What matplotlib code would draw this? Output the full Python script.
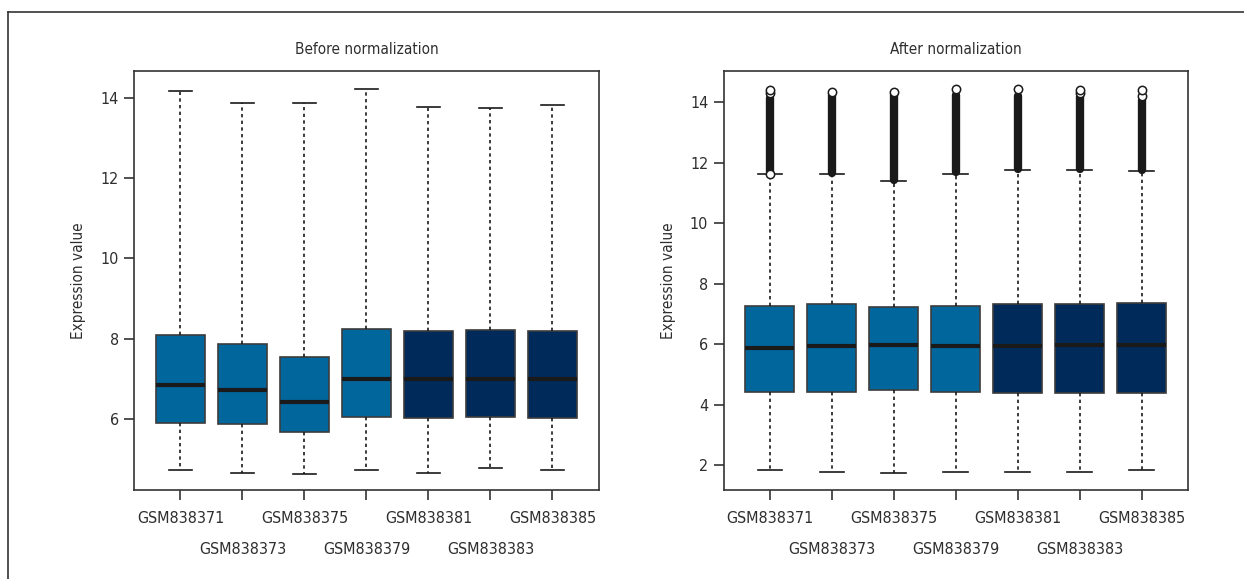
import matplotlib
matplotlib.use("Agg")
import matplotlib.pyplot as plt
from matplotlib.lines import Line2D

plt.rcParams['font.family'] = ['Liberation Sans Narrow', 'DejaVu Sans Condensed',
                               'DejaVu Sans']
plt.rcParams['font.stretch'] = 'condensed'

samples = ["GSM838371", "GSM838373", "GSM838375", "GSM838379",
           "GSM838381", "GSM838383", "GSM838385"]
box_colors = ["#00669c", "#00669c", "#00669c", "#00669c",
              "#002a5a", "#002a5a", "#002a5a"]

# before normalization: whisker low, Q1, median, Q3, whisker high
before_lo = [4.71, 4.64, 4.61, 4.71, 4.64, 4.76, 4.71]
before_q1 = [5.89, 5.88, 5.67, 6.05, 6.02, 6.04, 6.02]
before_med = [6.85, 6.72, 6.42, 7.00, 6.98, 6.98, 7.00]
before_q3 = [8.10, 7.86, 7.55, 8.23, 8.19, 8.21, 8.18]
before_hi = [14.17, 13.87, 13.88, 14.22, 13.78, 13.75, 13.83]

# after normalization
after_lo = [1.85, 1.78, 1.73, 1.78, 1.78, 1.76, 1.85]
after_q1 = [4.42, 4.42, 4.47, 4.42, 4.40, 4.40, 4.37]
after_med = [5.88, 5.93, 5.96, 5.93, 5.93, 5.96, 5.98]
after_q3 = [7.27, 7.32, 7.23, 7.27, 7.32, 7.32, 7.35]
after_hi = [11.64, 11.62, 11.40, 11.64, 11.77, 11.75, 11.72]
# dense run of outliers (from, to) and the sparse ones at the ends
after_band_lo = [11.68, 11.66, 11.44, 11.68, 11.80, 11.79, 11.76]
after_band_hi = [14.15, 14.27, 14.28, 14.22, 14.20, 14.20, 14.08]
after_fliers = [[11.62, 14.30, 14.39], [14.33], [14.33], [14.44],
                [14.44], [14.30, 14.40], [14.20, 14.41]]

TXT = "#2e2e2e"


def draw_panel(ax, lo, q1, med, q3, hi, title, ylim, yticks, cap):
    stats = []
    for i in range(len(samples)):
        stats.append(dict(whislo=lo[i], q1=q1[i], med=med[i], q3=q3[i],
                          whishi=hi[i], fliers=[]))
    pos = list(range(1, len(samples) + 1))
    bp = ax.bxp(stats, positions=pos, widths=0.79, patch_artist=True,
                capwidths=cap,
                boxprops=dict(edgecolor="#3c3c3c", linewidth=1.2),
                medianprops=dict(color="#1a1a1a", linewidth=3),
                whiskerprops=dict(color="#1a1a1a", linewidth=1.2,
                                  linestyle=(0, (2, 2))),
                capprops=dict(color="#1a1a1a", linewidth=1.2))
    for patch, c in zip(bp['boxes'], box_colors):
        patch.set_facecolor(c)
    ax.set_xlim(0.25, 7.75)
    ax.set_ylim(*ylim)
    ax.set_yticks(yticks)
    # R staggers the names: odd ones on the first row, even ones below
    ax.set_xticks(pos[0::2])
    ax.set_xticklabels(samples[0::2])
    ax.set_xticks(pos[1::2], minor=True)
    ax.set_xticklabels(samples[1::2], minor=True)
    ax.tick_params(axis='both', which='both', length=7, width=1.2,
                   color="#333333", labelsize=11.5, labelcolor=TXT)
    ax.tick_params(axis='x', which='major', pad=8)
    ax.tick_params(axis='x', which='minor', pad=30.5)
    ax.tick_params(axis='y', pad=4)
    for sp in ax.spines.values():
        sp.set_color("#333333")
        sp.set_linewidth(1.2)
    ax.set_ylabel("Expression value", fontsize=11, color=TXT, labelpad=10)
    ax.set_title(title, fontsize=11, color=TXT, pad=12)
    return pos


fig = plt.figure(figsize=(12.44, 5.79), dpi=100)
ax1 = fig.add_axes([0.1077, 0.1537, 0.3738, 0.7237])
ax2 = fig.add_axes([0.5816, 0.1537, 0.3734, 0.7237])

draw_panel(ax1, before_lo, before_q1, before_med, before_q3, before_hi,
           "Before normalization", (4.22, 14.68), [6, 8, 10, 12, 14], 0.37)
pos = draw_panel(ax2, after_lo, after_q1, after_med, after_q3, after_hi,
                 "After normalization", (1.18, 15.03), [2, 4, 6, 8, 10, 12, 14], 0.4)

# outliers after normalization
ax2.vlines(pos, after_band_lo, after_band_hi, color="#1a1a1a",
           linewidth=6, capstyle='round', zorder=3)
for p, fl in zip(pos, after_fliers):
    ax2.plot([p] * len(fl), fl, linestyle='none', marker='o', markersize=6,
             markerfacecolor='white', markeredgecolor="#1a1a1a",
             markeredgewidth=1.1, zorder=4)

# outer frame of the figure
fig.add_artist(Line2D([8 / 1244, 1], [1 - 12 / 579, 1 - 12 / 579],
                      color="#333333", linewidth=1.2))
fig.add_artist(Line2D([8 / 1244, 8 / 1244], [0, 1 - 12 / 579],
                      color="#333333", linewidth=1.2))

fig.savefig("out.png", dpi=100)
